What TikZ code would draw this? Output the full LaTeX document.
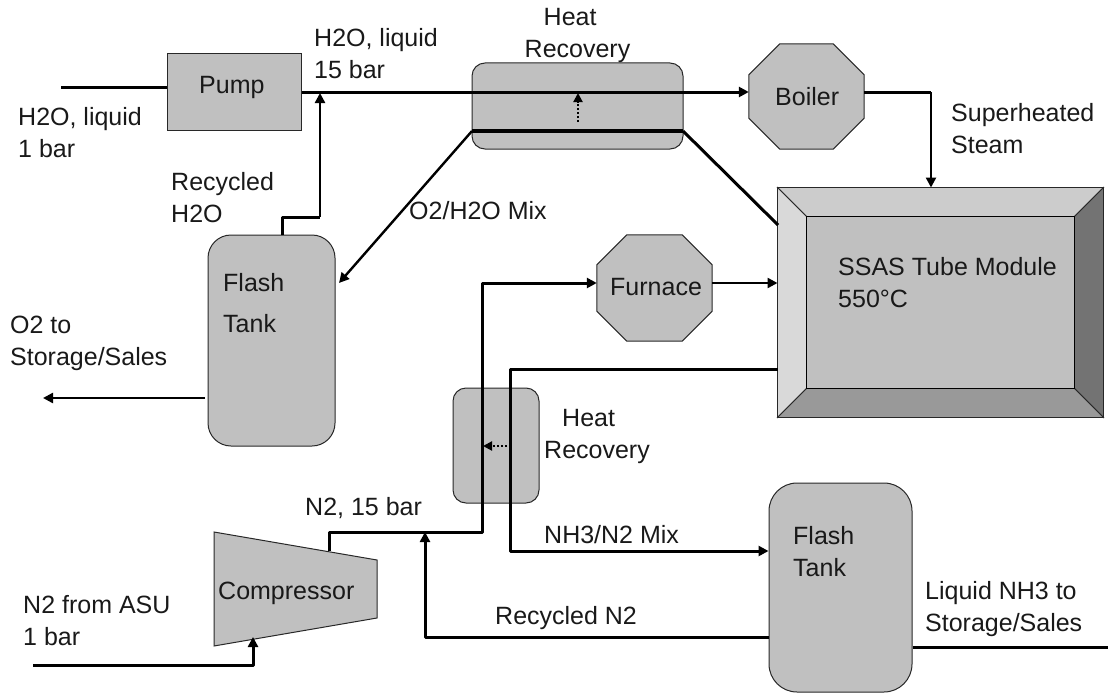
\documentclass[tikz,border=0pt]{standalone}
\usepackage{xcolor}
\usepackage{fontspec}
\usetikzlibrary{arrows.meta}
\setmainfont{Liberation Sans}
\definecolor{UnitGray}{RGB}{192,192,192}
\definecolor{BevelTop}{RGB}{204,204,204}
\definecolor{BevelLeft}{RGB}{217,217,217}
\definecolor{BevelRight}{RGB}{115,115,115}
\definecolor{BevelBottom}{RGB}{153,153,153}
\definecolor{EdgeDark}{RGB}{40,40,40}
\newcommand{\octagonat}[2]{%
  \filldraw[draw=EdgeDark,line width=1pt,fill=UnitGray]
    ([xshift=#2]#1.north west) -- ([xshift=-#2]#1.north east) -- ([yshift=-#2]#1.north east)
    -- ([yshift=#2]#1.south east) -- ([xshift=-#2]#1.south east) -- ([xshift=#2]#1.south west)
    -- ([yshift=#2]#1.south west) -- ([yshift=-#2]#1.north west) -- cycle;}
\tikzset{
  unitbox/.style={draw=EdgeDark,fill=UnitGray,line width=1pt,inner sep=0pt},
  octabox/.style={inner sep=0pt},
  pipe/.style={line width=3pt,line join=round},
  flow/.style={pipe,-{Triangle[length=10pt,width=10pt]}},
  thinflow/.style={line width=2.4pt,line join=round,-{Triangle[length=10pt,width=10pt]}},
  heatflow/.style={line width=2pt,dotted,-{Triangle[length=9pt,width=9pt]}},
  unittext/.style={font=\fontsize{25}{32}\selectfont,align=left,anchor=west,inner sep=0pt,text=black!90}
}
\begin{document}
\begin{tikzpicture}[x=1pt,y=-1pt]
    \useasboundingbox (0,0) rectangle (1110,693);
    % units
    \node[unitbox,minimum width=134pt,minimum height=76pt] (pump) at (234,92) {};
    \node[unitbox,rounded corners=13pt,minimum width=211pt,minimum height=86pt] (hxtop) at (577.5,106) {};
    \node[octabox,minimum width=115pt,minimum height=105pt] (boiler) at (806.5,96.5) {};
    \octagonat{boiler}{31pt}
    \node[octabox,minimum width=115pt,minimum height=106pt] (furnace) at (654.5,288) {};
    \octagonat{furnace}{30pt}
    \node[unitbox,rounded corners=23pt,minimum width=127pt,minimum height=211pt] (tankleft) at (271.5,340.5) {};
    \node[unitbox,rounded corners=13pt,minimum width=86pt,minimum height=115pt] (hxlow) at (496,445.5) {};
    \node[unitbox,rounded corners=28pt,minimum width=143pt,minimum height=209pt] (tankright) at (840.5,587.5) {};
    % SSAS module
    \node[draw=EdgeDark,line width=1pt,minimum width=325pt,minimum height=229pt,inner sep=0pt] (ssas) at (940.5,302.5) {};
    \node[minimum width=267pt,minimum height=171pt,inner sep=0pt] (ssascore) at (940.5,302.5) {};
    \filldraw[draw=EdgeDark,line width=.8pt,fill=BevelTop] (ssas.north west) -- (ssas.north east) -- (ssascore.north east) -- (ssascore.north west) -- cycle;
    \filldraw[draw=EdgeDark,line width=.8pt,fill=BevelLeft] (ssas.north west) -- (ssascore.north west) -- (ssascore.south west) -- (ssas.south west) -- cycle;
    \filldraw[draw=EdgeDark,line width=.8pt,fill=BevelRight] (ssas.north east) -- (ssas.south east) -- (ssascore.south east) -- (ssascore.north east) -- cycle;
    \filldraw[draw=EdgeDark,line width=.8pt,fill=BevelBottom] (ssas.south west) -- (ssas.south east) -- (ssascore.south east) -- (ssascore.south west) -- cycle;
    \filldraw[draw=black,line width=.8pt,fill=UnitGray] (ssascore.north west) rectangle (ssascore.south east);
    % compressor
    \coordinate (compNW) at (214,532);
    \coordinate (compNE) at (377,560);
    \coordinate (compSE) at (377,618);
    \coordinate (compSW) at (214,646);
    \filldraw[draw=EdgeDark,line width=1pt,fill=UnitGray] (compNW) -- (compNE) -- (compSE) -- (compSW) -- cycle;
    % free ends and junctions
    \coordinate (waterIn) at (61,87);
    \coordinate (pumpIn) at (pump.west |- waterIn);
    \coordinate (pumpOut) at (pump.east |- 0,92);
    \coordinate (joinWater) at (320,93);
    \coordinate (boilerIn) at (boiler.west |- 0,92);
    \coordinate (boilerOut) at (boiler.east |- 0,92);
    \coordinate (mixLeft) at (472,131);
    \coordinate (mixRight) at (683,131);
    \coordinate (ssasMix) at (778,225);
    \coordinate (tankMix) at (339,283);
    \coordinate (oxygenOut) at (43,398);
    \coordinate (tankOxy) at (205,398);
    \coordinate (furnaceIn) at (furnace.west |- 0,283);
    \coordinate (furnaceOut) at (furnace.east |- 0,283);
    \coordinate (ssasIn) at (ssas.west |- 0,283);
    \coordinate (joinNitro) at (425,532);
    \coordinate (compOut) at (329,551);
    \coordinate (nitroIn) at (33,665);
    \coordinate (compIn) at (253,637);
    \coordinate (ssasOut) at (ssas.west |- 0,369);
    \coordinate (tankNH3) at (tankright.west |- 0,551);
    \coordinate (tankRec) at (tankright.west |- 0,637);
    \coordinate (liquidOut) at (1108,647);
    \coordinate (tankLiq) at (tankright.east |- liquidOut);
    \coordinate (hxTopHot) at (578,122);
    \coordinate (hxTopCold) at (578,93);
    \coordinate (hxLowHot) at (507,446);
    \coordinate (hxLowCold) at (483,446);
    % connectors
    \draw[pipe] (waterIn) -- (pumpIn);
    \draw[flow] (pumpOut) -- (boilerIn);
    \draw[pipe] (boilerOut) -- (931,92);
    \draw[thinflow] (931,92) -- (931,0 |- ssas.north);
    \draw[pipe] (282,0 |- tankleft.north) -- (282,217) -- (320,217);
    \draw[thinflow] (320,217) -- (joinWater);
    \draw[line width=4.2pt] (mixLeft) -- (mixRight);
    \draw[pipe] (mixRight) -- (ssasMix);
    \draw[thinflow] (mixLeft) -- (tankMix);
    \draw[thinflow] (tankOxy) -- (oxygenOut);
    \draw[flow] (compOut) -- (329,532) -- (482,532) -- (482,283) -- (furnaceIn);
    \draw[thinflow] (furnaceOut) -- (ssasIn);
    \draw[flow] (ssasOut) -- (510,369) -- (510,551) -- (tankNH3);
    \draw[flow] (tankRec) -- (425,637) -- (joinNitro);
    \draw[pipe] (tankLiq) -- (liquidOut);
    \draw[flow] (nitroIn) -- (253,665) -- (compIn);
    \draw[heatflow] (hxTopHot) -- (hxTopCold);
    \draw[heatflow] (hxLowHot) -- (hxLowCold);
    % labels
    \node[unittext] (waterInText) at (18,133) {H2O, liquid\\1 bar};
    \node[unittext] (pumpText) at (199,87) {Pump};
    \node[unittext] (waterOutText) at (314,54) {H2O, liquid\\15 bar};
    \node[unittext] (hxTopText) at (524.5,35) {\hspace*{19pt}Heat\\Recovery};
    \node[unittext] (boilerText) at (775,97) {Boiler};
    \node[unittext] (steamText) at (951,128.5) {Superheated\\Steam};
    \node[unittext] (recWaterText) at (171,198) {Recycled\\H2O};
    \node[unittext] (mixText) at (409,211) {O2/H2O Mix};
    \node[unittext] (tankLeftText) at (223,303) {Flash\\[9pt]Tank};
    \node[unittext] (oxygenText) at (10,343) {O2 to\\Storage/Sales};
    \node[unittext] (ssasText) at (838,283) {SSAS Tube Module\\550°C};
    \node[unittext] (furnaceText) at (610,287) {Furnace};
    \node[unittext] (hxLowText) at (544,436) {\hspace*{18pt}Heat\\Recovery};
    \node[unittext] (nitroText) at (305,508) {N2, 15 bar};
    \node[unittext] (nh3Text) at (544,535) {NH3/N2 Mix};
    \node[unittext] (tankRightText) at (793,552) {Flash\\Tank};
    \node[unittext] (liquidText) at (925,609) {Liquid NH3 to\\Storage/Sales};
    \node[unittext] (recNitroText) at (495,618) {Recycled N2};
    \node[unittext] (compText) at (218,593) {Compressor};
    \node[unittext] (nitroInText) at (23,621) {N2 from ASU\\1 bar};
  \end{tikzpicture}
\end{document}
